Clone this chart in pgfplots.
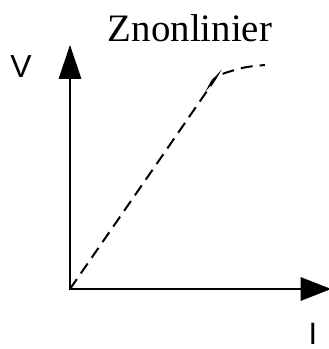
\documentclass[border=0pt]{standalone}
\usepackage{fontspec}
\setmainfont{Liberation Serif}
\newfontfamily\arial{Liberation Sans}
\usepackage{pgfplots}
\pgfplotsset{compat=1.18}
\begin{document}
\begin{tikzpicture}
\begin{axis}[
  hide axis, scale only axis,
  width=329bp, height=349bp,
  xmin=-70, xmax=259, ymin=-60, ymax=289,
  clip=false,
]
% axes
\addplot[line width=2.6bp, line cap=butt] coordinates {(-1.3,0) (232,0)};
\addplot[line width=2.6bp, line cap=butt] coordinates {(0,0) (0,212)};
\addplot[fill=black, draw=none] coordinates {(230.5,12) (261,0) (230.5,-12)} -- cycle;
\addplot[fill=black, draw=none] coordinates {(-11.5,210) (0,244) (11.5,210)} -- cycle;
% curve
\addplot[line width=2bp, dash pattern=on 12bp off 7bp, smooth, tension=0.5] coordinates {
(0,0) (137,198) (140,204) (143,209) (148,213) (155,216) (165,219) (177,222) (195,224)};
\node[anchor=base, inner sep=0pt, font=\fontsize{39}{39}\selectfont] at (axis cs:120,247) {Znonlinier};
\node[anchor=base, inner sep=0pt, font=\arial\fontsize{32}{32}\selectfont] at (axis cs:-49,211) {V};
\node[anchor=base, inner sep=0pt, font=\arial\fontsize{31}{31}\selectfont] at (axis cs:243,-55) {I};
\end{axis}
\pgfresetboundingbox
\path[use as bounding box] (current axis.south west) rectangle (current axis.north east);
\end{tikzpicture}
\end{document}
